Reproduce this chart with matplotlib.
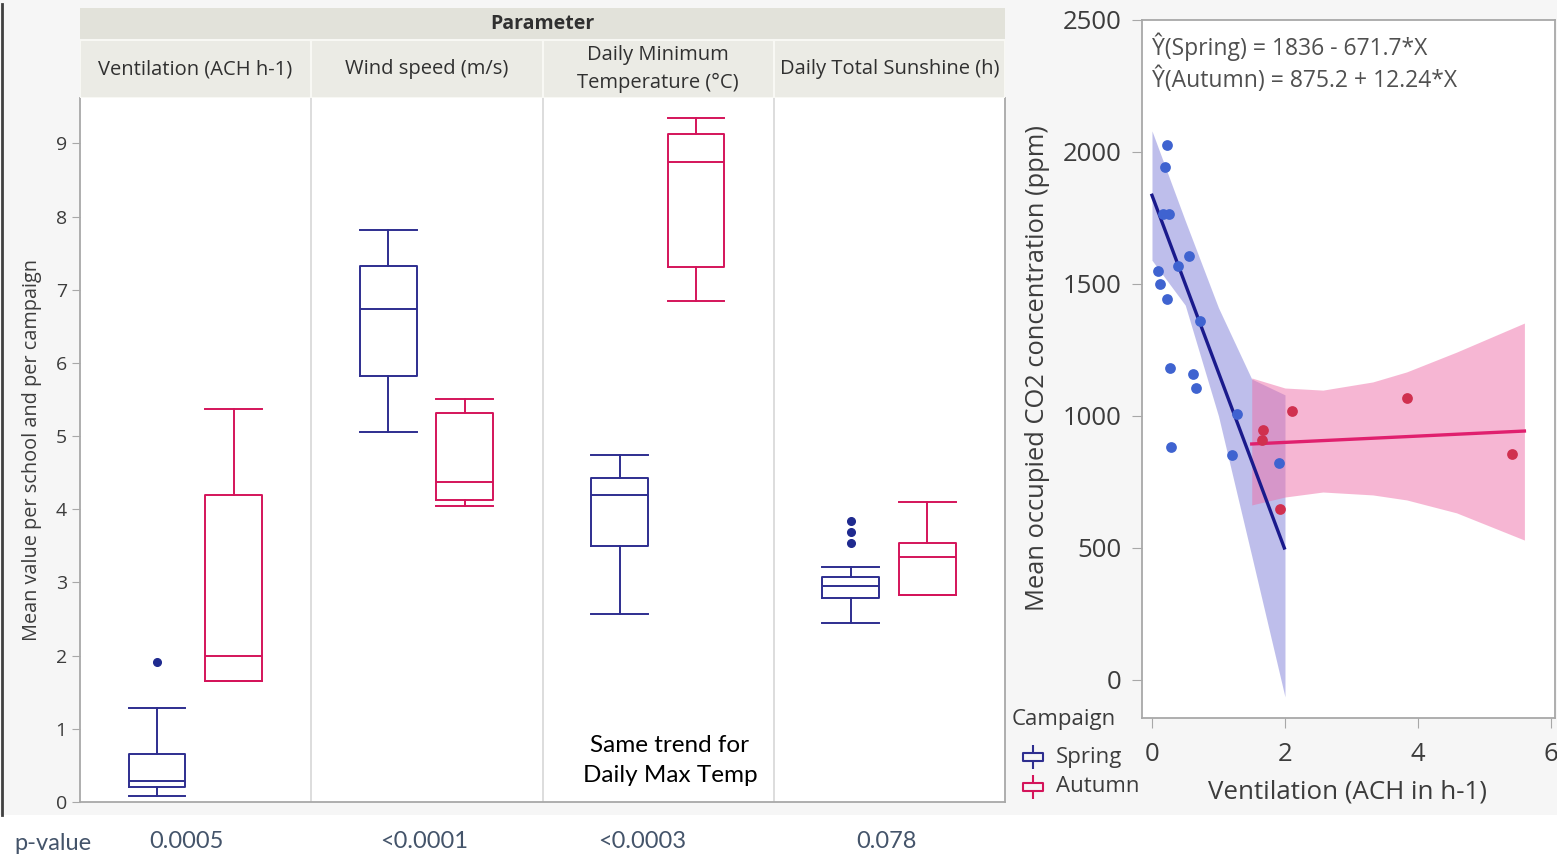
import matplotlib
matplotlib.use("Agg")
import matplotlib.pyplot as plt
from matplotlib.lines import Line2D
from matplotlib.patches import Rectangle
from matplotlib.path import Path

plt.rcParams["font.family"] = ["Open Sans", "DejaVu Sans"]

# ── Data: box plot summaries (left panel) ───────────────────────────────────
PARAMS = ["Ventilation (ACH h-1)", "Wind speed (m/s)",
          "Daily Minimum\nTemperature (°C)", "Daily Total Sunshine (h)"]
P_VALUES = ["0.0005", "<0.0001", "<0.0003", "0.078"]

spring_lo  = [0.08, 5.05, 2.57, 2.45]
spring_q1  = [0.20, 5.82, 3.50, 2.79]
spring_med = [0.29, 6.74, 4.20, 2.95]
spring_q3  = [0.66, 7.32, 4.43, 3.07]
spring_hi  = [1.28, 7.81, 4.74, 3.21]
spring_out = [[1.91], [], [], [3.54, 3.69, 3.84]]

autumn_lo  = [1.65, 4.04, 6.84, 2.83]
autumn_q1  = [1.65, 4.13, 7.31, 2.83]
autumn_med = [1.99, 4.37, 8.74, 3.35]
autumn_q3  = [4.19, 5.31, 9.13, 3.54]
autumn_hi  = [5.37, 5.51, 9.34, 4.10]
autumn_out = [[], [], [], []]

# ── Data: CO2 vs ventilation (right panel) ──────────────────────────────────
spring_x = [0.22, 0.20, 0.17, 0.25, 0.56, 0.39, 0.09, 0.12, 0.22,
            0.72, 0.27, 0.62, 0.66, 0.29, 1.28, 1.20, 1.91]
spring_y = [2027, 1943, 1765, 1765, 1606, 1568, 1549, 1500, 1443,
            1360, 1182, 1159, 1106, 883, 1008, 852, 822]
autumn_x = [1.67, 1.66, 2.10, 3.83, 5.42, 1.92]
autumn_y = [947, 909, 1019, 1068, 856, 648]

spring_fit_x = [0.0, 1.99]
spring_fit_y = [1836, 500]
autumn_fit_x = [1.50, 5.60]
autumn_fit_y = [894, 943]

spring_band_x  = [0.0, 0.5, 1.0, 1.5, 2.0]
spring_band_hi = [2080, 1740, 1410, 1140, 1080]
spring_band_lo = [1590, 1420, 1000, 470, -64]

autumn_band_x  = [1.50, 2.00, 2.57, 3.32, 3.83, 4.58, 5.60]
autumn_band_hi = [1144, 1106, 1098, 1129, 1167, 1242, 1352]
autumn_band_lo = [663, 693, 712, 701, 682, 633, 530]

EQ_SPRING = "Ŷ(Spring) = 1836 - 671.7*X"
EQ_AUTUMN = "Ŷ(Autumn) = 875.2 + 12.24*X"

# ── Style ────────────────────────────────────────────────────────────────────
SPRING = "#2E2E8F"
AUTUMN = "#D4145A"
SPRING_DOT = "#3F63D0"
AUTUMN_DOT = "#D0304F"
GRID = "#a8a8a8"
TXT = "#3c3c3c"

W, H = 1557, 858
fig = plt.figure(figsize=(W / 100, H / 100), dpi=100)
fig.patch.set_facecolor("#f6f6f6")


def rect(x0, y0, x1, y1):
    """pixel box (top-left origin) -> figure fraction rect"""
    return [x0 / W, 1 - y1 / H, (x1 - x0) / W, (y1 - y0) / H]


fig.add_artist(Rectangle((0, 0), 1, (H - 815) / H, transform=fig.transFigure,
                         facecolor="white", edgecolor="none", zorder=-1))
fig.add_artist(Line2D([1.5 / W] * 2, [1 - 815 / H, 1 - 4 / H], color="#404040",
                      lw=2, transform=fig.transFigure))

# ── Left: box plots ──────────────────────────────────────────────────────────
ax = fig.add_axes(rect(80, 98, 1005, 802))
ax.set_facecolor("white")
ax.set_xlim(0, 4)
ax.set_ylim(0, 9.62)
ax.set_xticks([])
ax.set_yticks(range(10))
ax.tick_params(axis="y", length=6, color=GRID, labelsize=14, labelcolor=TXT)
ax.spines["top"].set_visible(False)
for s in ["left", "bottom", "right"]:
    ax.spines[s].set_color(GRID)
    ax.spines[s].set_linewidth(1.3)
for i in range(1, 4):
    ax.axvline(i, color="#dadada", lw=1.3)


def make_stats(lo, q1, med, q3, hi, out):
    return [dict(whislo=a, q1=b, med=c, q3=d, whishi=e, fliers=f)
            for a, b, c, d, e, f in zip(lo, q1, med, q3, hi, out)]


for st, off, col, dot in [
    (make_stats(spring_lo, spring_q1, spring_med, spring_q3, spring_hi, spring_out),
     0.333, SPRING, "#1f2a8f"),
    (make_stats(autumn_lo, autumn_q1, autumn_med, autumn_q3, autumn_hi, autumn_out),
     0.664, AUTUMN, AUTUMN),
]:
    lp = dict(color=col, lw=1.4)
    ax.bxp(st, positions=[i + off for i in range(4)], widths=0.245,
           capwidths=0.245, manage_ticks=False,
           boxprops=lp, whiskerprops=lp, capprops=lp, medianprops=lp,
           flierprops=dict(marker="o", markerfacecolor=dot,
                           markeredgecolor=dot, markersize=5.5))

ax.text(2.551, 0.57, "Same trend for\nDaily Max Temp", ha="center",
        va="center", fontsize=17.5, family="Lato", color="black",
        linespacing=1.5)

# header strip
hax = fig.add_axes(rect(80, 8, 1005, 98))
hax.set_xlim(0, 4)
hax.set_ylim(98, 8)
hax.axis("off")
hax.add_patch(Rectangle((0, 8), 4, 32, facecolor="#e2e2da", edgecolor="none"))
hax.text(2, 24, "Parameter", ha="center", va="center", fontsize=14,
         fontweight="bold", color="#303030")
for i, name in enumerate(PARAMS):
    hax.add_patch(Rectangle((i, 40), 1, 58, facecolor="#ebebe5",
                            edgecolor="#f8f8f4", lw=1.5))
    hax.text(i + 0.5, 69, name, ha="center", va="center", fontsize=14.5,
             color="#303030", linespacing=1.5)

fig.text(32 / W, 1 - 450 / H, "Mean value per school and per campaign",
         rotation=90, ha="center", va="center", fontsize=14.3, color=TXT)

# p-value row
fig.text(14 / W, 1 - 843 / H, "p-value", ha="left", va="center",
         fontsize=17, family="Lato", color="#44546A")
for px, pv in zip([186, 424, 642, 886], P_VALUES):
    fig.text(px / W, 1 - 841 / H, pv, ha="center", va="center",
             fontsize=17, family="Lato", color="#44546A")

# ── Right: CO2 vs ventilation ────────────────────────────────────────────────
rax = fig.add_axes(rect(1142, 20, 1555, 718))
rax.set_facecolor("white")
rax.set_xlim(-0.15, 6.06)
rax.set_ylim(-144, 2500)
rax.set_xticks([0, 2, 4, 6])
rax.set_yticks([0, 500, 1000, 1500, 2000, 2500])
rax.tick_params(length=7, color=GRID, labelsize=18.5, labelcolor=TXT)
rax.tick_params(axis="x", pad=10)
rax.tick_params(axis="y", pad=8)
for s in rax.spines.values():
    s.set_color(GRID)
    s.set_linewidth(1.3)

rax.fill_between(spring_band_x, spring_band_lo, spring_band_hi,
                 color="#7f7fd8", alpha=0.5, lw=0, zorder=1)
rax.fill_between(autumn_band_x, autumn_band_lo, autumn_band_hi,
                 color="#ee6fa8", alpha=0.5, lw=0, zorder=1)
rax.plot(spring_fit_x, spring_fit_y, color="#1a1a8c", lw=2.4, zorder=3)
rax.plot(autumn_fit_x, autumn_fit_y, color="#E0206E", lw=2.4, zorder=3)
rax.scatter(spring_x, spring_y, s=60, color=SPRING_DOT, zorder=4, lw=0)
rax.scatter(autumn_x, autumn_y, s=60, color=AUTUMN_DOT, zorder=4, lw=0)

rax.text(0.024, 0.961, EQ_SPRING, transform=rax.transAxes, ha="left",
         va="center", fontsize=16.5, color="#505050")
rax.text(0.024, 0.914, EQ_AUTUMN, transform=rax.transAxes, ha="left",
         va="center", fontsize=16.5, color="#505050")

fig.text(1037 / W, 1 - 368 / H, "Mean occupied CO2 concentration (ppm)",
         rotation=90, ha="center", va="center", fontsize=18.4, color=TXT)
fig.text(1347 / W, 1 - 792 / H, "Ventilation (ACH in h-1)",
         ha="center", va="center", fontsize=18.6, color=TXT)

# legend
icon = Path([(-1, -0.45), (1, -0.45), (1, 0.45), (-1, 0.45), (-1, -0.45),
             (0, 0.45), (0, 1.2), (0, -0.45), (0, -1.2)],
            [Path.MOVETO, Path.LINETO, Path.LINETO, Path.LINETO, Path.CLOSEPOLY,
             Path.MOVETO, Path.LINETO, Path.MOVETO, Path.LINETO])
fig.text(1012 / W, 1 - 720 / H, "Campaign", ha="left", va="center",
         fontsize=16, color=TXT)
for py, lab, col in [(757, "Spring", SPRING), (787, "Autumn", AUTUMN)]:
    fig.add_artist(Line2D([1033 / W], [1 - py / H], marker=icon,
                          markersize=17, markerfacecolor="none",
                          markeredgecolor=col, markeredgewidth=1.5,
                          transform=fig.transFigure))
    fig.text(1056 / W, 1 - py / H, lab, ha="left", va="center",
             fontsize=16, color=TXT)

fig.savefig("out.png", dpi=100)
